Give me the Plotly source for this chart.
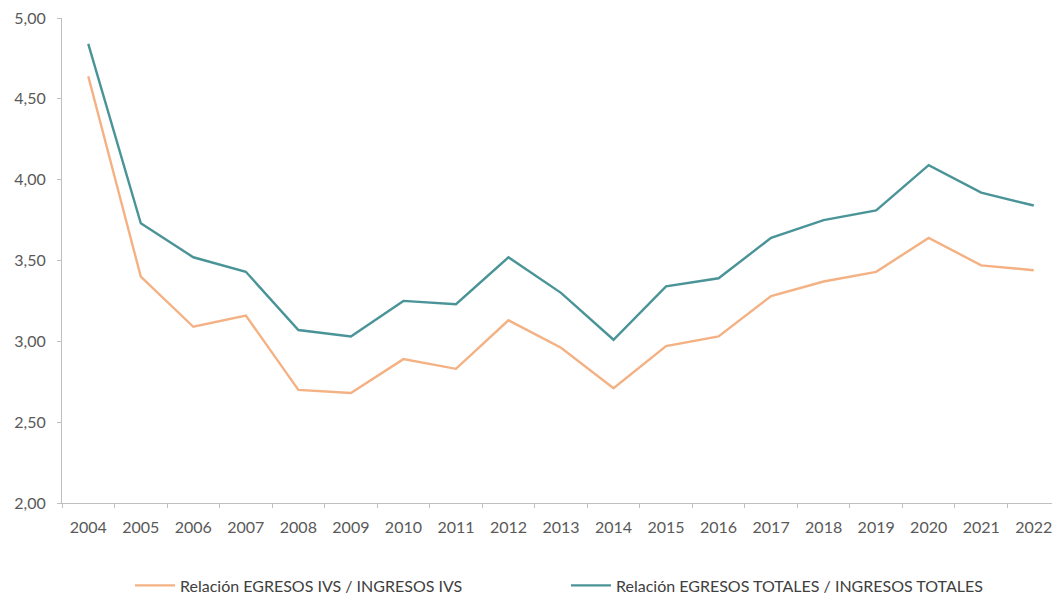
import plotly.graph_objects as go

years = [str(y) for y in range(2004, 2023)]
ivs = [4.64, 3.40, 3.09, 3.16, 2.70, 2.68, 2.89, 2.83, 3.13, 2.96, 2.71, 2.97, 3.03,
       3.28, 3.37, 3.43, 3.64, 3.47, 3.44]
totales = [4.84, 3.73, 3.52, 3.43, 3.07, 3.03, 3.25, 3.23, 3.52, 3.30, 3.01, 3.34, 3.39,
           3.64, 3.75, 3.81, 4.09, 3.92, 3.84]
name_ivs = "Relación EGRESOS IVS / INGRESOS IVS"
name_tot = "Relación EGRESOS TOTALES / INGRESOS TOTALES"

fig = go.Figure()
fig.add_trace(go.Scatter(x=years, y=ivs, mode="lines", name=name_ivs,
                         line=dict(color="#F4B183", width=2.4)))
fig.add_trace(go.Scatter(x=years, y=totales, mode="lines", name=name_tot,
                         line=dict(color="#4A9498", width=2.4)))

font_family = "Lato, 'Open Sans', sans-serif"
fig.update_layout(
    width=1052, height=606,
    margin=dict(l=54, r=0, t=10, b=111),
    paper_bgcolor="white", plot_bgcolor="white",
    separators=",.",
    font=dict(family=font_family, size=16, color="#595959"),
    showlegend=True,
    legend=dict(orientation="h", x=0.505, xanchor="center", y=-0.17, yanchor="middle",
                font=dict(size=16, color="#404040"), entrywidth=381, itemwidth=40),
    xaxis=dict(type="category", range=[-0.5, len(years) - 0.5],
               showline=True, linecolor="#BFBFBF", linewidth=1,
               ticks="outside", tickson="boundaries", ticklen=4, tickcolor="#BFBFBF",
               ticklabelstandoff=10,
               showgrid=False, tickfont=dict(size=16, color="#595959")),
    yaxis=dict(range=[2, 5], dtick=0.5, tickformat=".2f", showline=True,
               linecolor="#BFBFBF", linewidth=1, ticks="outside", ticklen=4,
               tickcolor="#BFBFBF", showgrid=False, zeroline=False,
               ticklabelstandoff=8, ticklabeloverflow="allow",
               tickfont=dict(size=16, color="#595959")),
)

fig.write_html("out.html")
